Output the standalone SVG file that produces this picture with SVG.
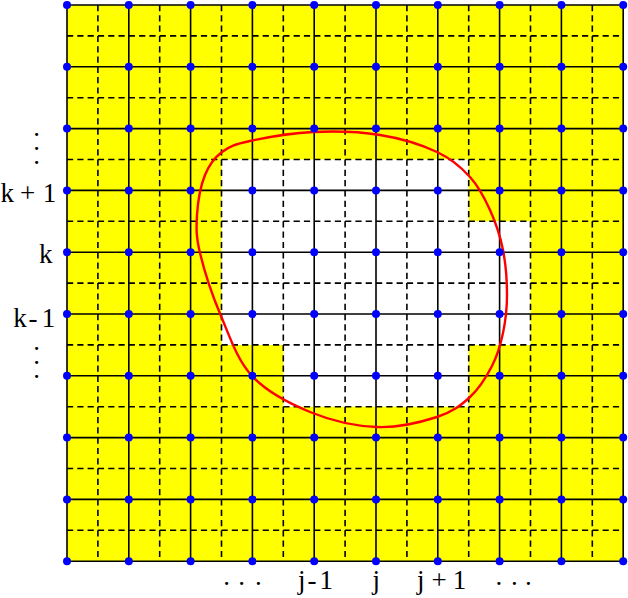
<svg xmlns="http://www.w3.org/2000/svg" width="628" height="598" viewBox="0 0 628 598">
<style>
.solid{stroke:#000;stroke-width:1.6;fill:none}
.dash{stroke:#000;stroke-width:1.6;fill:none;stroke-dasharray:6.2 4.1}
.pt{fill:#0000FF}
.lbl{font-family:"Liberation Serif","Times New Roman",serif;font-size:27px;fill:#000}
.dot{font-family:"Liberation Serif","Times New Roman",serif;font-size:19px;font-weight:bold;fill:#000}
</style>
<rect x="67" y="5" width="556.2" height="556.2" fill="#FFFF00"/>
<polygon points="221.5,159.5 468.7,159.5 468.7,221.3 530.5,221.3 530.5,344.9 468.7,344.9 468.7,406.7 283.3,406.7 283.3,344.9 221.5,344.9" fill="#FFFFFF"/>
<g id="dashed">
<line class="dash" x1="97.9" y1="5" x2="97.9" y2="561.2"/>
<line class="dash" x1="159.7" y1="5" x2="159.7" y2="561.2"/>
<line class="dash" x1="221.5" y1="5" x2="221.5" y2="561.2"/>
<line class="dash" x1="283.3" y1="5" x2="283.3" y2="561.2"/>
<line class="dash" x1="345.1" y1="5" x2="345.1" y2="561.2"/>
<line class="dash" x1="406.9" y1="5" x2="406.9" y2="561.2"/>
<line class="dash" x1="468.7" y1="5" x2="468.7" y2="561.2"/>
<line class="dash" x1="530.5" y1="5" x2="530.5" y2="561.2"/>
<line class="dash" x1="592.3" y1="5" x2="592.3" y2="561.2"/>
<line class="dash" x1="67" y1="35.9" x2="623.2" y2="35.9"/>
<line class="dash" x1="67" y1="97.7" x2="623.2" y2="97.7"/>
<line class="dash" x1="67" y1="159.5" x2="623.2" y2="159.5"/>
<line class="dash" x1="67" y1="221.3" x2="623.2" y2="221.3"/>
<line class="dash" x1="67" y1="283.1" x2="623.2" y2="283.1"/>
<line class="dash" x1="67" y1="344.9" x2="623.2" y2="344.9"/>
<line class="dash" x1="67" y1="406.7" x2="623.2" y2="406.7"/>
<line class="dash" x1="67" y1="468.5" x2="623.2" y2="468.5"/>
<line class="dash" x1="67" y1="530.3" x2="623.2" y2="530.3"/>
</g>
<g id="solid">
<path class="solid" d="M67,5V561.2M128.8,5V561.2M190.6,5V561.2M252.4,5V561.2M314.2,5V561.2M376,5V561.2M437.8,5V561.2M499.6,5V561.2M561.4,5V561.2M623.2,5V561.2"/>
<path class="solid" d="M67,5H623.2M67,66.8H623.2M67,128.6H623.2M67,190.4H623.2M67,252.2H623.2M67,314H623.2M67,375.8H623.2M67,437.6H623.2M67,499.4H623.2M67,561.2H623.2"/>
</g>
<path id="curve" d="M313,132 C334.7,131 359.3,131.7 380,135 C400.7,138.3 422,145 437,152 C452,159 461.2,167.3 470,177 C478.8,186.7 484.5,197.8 490,210 C495.5,222.2 500.2,235.8 503,250 C505.8,264.2 507,281.2 507,295 C507,308.8 505.5,321.2 503,333 C500.5,344.8 497.5,355.3 492,366 C486.5,376.7 479.2,388.5 470,397 C460.8,405.5 452.5,412 437,417 C421.5,422 398.2,427.8 377,427 C355.8,426.2 330.8,420.5 310,412 C289.2,403.5 266.8,392 252,376 C237.2,360 229.7,336.5 221,316 C212.3,295.5 204,269.8 200,253 C196,236.2 196.2,228 197,215 C197.8,202 200.8,185.5 205,175 C209.2,164.5 214.5,157.7 222,152 C229.5,146.3 234.8,144.3 250,141 C265.2,137.7 291.3,133 313,132 Z" fill="none" stroke="#FF0000" stroke-width="2.4"/>
<g id="points">
<circle class="pt" cx="67" cy="5" r="4"/><circle class="pt" cx="128.8" cy="5" r="4"/><circle class="pt" cx="190.6" cy="5" r="4"/><circle class="pt" cx="252.4" cy="5" r="4"/><circle class="pt" cx="314.2" cy="5" r="4"/><circle class="pt" cx="376" cy="5" r="4"/><circle class="pt" cx="437.8" cy="5" r="4"/><circle class="pt" cx="499.6" cy="5" r="4"/><circle class="pt" cx="561.4" cy="5" r="4"/><circle class="pt" cx="623.2" cy="5" r="4"/>
<circle class="pt" cx="67" cy="66.8" r="4"/><circle class="pt" cx="128.8" cy="66.8" r="4"/><circle class="pt" cx="190.6" cy="66.8" r="4"/><circle class="pt" cx="252.4" cy="66.8" r="4"/><circle class="pt" cx="314.2" cy="66.8" r="4"/><circle class="pt" cx="376" cy="66.8" r="4"/><circle class="pt" cx="437.8" cy="66.8" r="4"/><circle class="pt" cx="499.6" cy="66.8" r="4"/><circle class="pt" cx="561.4" cy="66.8" r="4"/><circle class="pt" cx="623.2" cy="66.8" r="4"/>
<circle class="pt" cx="67" cy="128.6" r="4"/><circle class="pt" cx="128.8" cy="128.6" r="4"/><circle class="pt" cx="190.6" cy="128.6" r="4"/><circle class="pt" cx="252.4" cy="128.6" r="4"/><circle class="pt" cx="314.2" cy="128.6" r="4"/><circle class="pt" cx="376" cy="128.6" r="4"/><circle class="pt" cx="437.8" cy="128.6" r="4"/><circle class="pt" cx="499.6" cy="128.6" r="4"/><circle class="pt" cx="561.4" cy="128.6" r="4"/><circle class="pt" cx="623.2" cy="128.6" r="4"/>
<circle class="pt" cx="67" cy="190.4" r="4"/><circle class="pt" cx="128.8" cy="190.4" r="4"/><circle class="pt" cx="190.6" cy="190.4" r="4"/><circle class="pt" cx="252.4" cy="190.4" r="4"/><circle class="pt" cx="314.2" cy="190.4" r="4"/><circle class="pt" cx="376" cy="190.4" r="4"/><circle class="pt" cx="437.8" cy="190.4" r="4"/><circle class="pt" cx="499.6" cy="190.4" r="4"/><circle class="pt" cx="561.4" cy="190.4" r="4"/><circle class="pt" cx="623.2" cy="190.4" r="4"/>
<circle class="pt" cx="67" cy="252.2" r="4"/><circle class="pt" cx="128.8" cy="252.2" r="4"/><circle class="pt" cx="190.6" cy="252.2" r="4"/><circle class="pt" cx="252.4" cy="252.2" r="4"/><circle class="pt" cx="314.2" cy="252.2" r="4"/><circle class="pt" cx="376" cy="252.2" r="4"/><circle class="pt" cx="437.8" cy="252.2" r="4"/><circle class="pt" cx="499.6" cy="252.2" r="4"/><circle class="pt" cx="561.4" cy="252.2" r="4"/><circle class="pt" cx="623.2" cy="252.2" r="4"/>
<circle class="pt" cx="67" cy="314" r="4"/><circle class="pt" cx="128.8" cy="314" r="4"/><circle class="pt" cx="190.6" cy="314" r="4"/><circle class="pt" cx="252.4" cy="314" r="4"/><circle class="pt" cx="314.2" cy="314" r="4"/><circle class="pt" cx="376" cy="314" r="4"/><circle class="pt" cx="437.8" cy="314" r="4"/><circle class="pt" cx="499.6" cy="314" r="4"/><circle class="pt" cx="561.4" cy="314" r="4"/><circle class="pt" cx="623.2" cy="314" r="4"/>
<circle class="pt" cx="67" cy="375.8" r="4"/><circle class="pt" cx="128.8" cy="375.8" r="4"/><circle class="pt" cx="190.6" cy="375.8" r="4"/><circle class="pt" cx="252.4" cy="375.8" r="4"/><circle class="pt" cx="314.2" cy="375.8" r="4"/><circle class="pt" cx="376" cy="375.8" r="4"/><circle class="pt" cx="437.8" cy="375.8" r="4"/><circle class="pt" cx="499.6" cy="375.8" r="4"/><circle class="pt" cx="561.4" cy="375.8" r="4"/><circle class="pt" cx="623.2" cy="375.8" r="4"/>
<circle class="pt" cx="67" cy="437.6" r="4"/><circle class="pt" cx="128.8" cy="437.6" r="4"/><circle class="pt" cx="190.6" cy="437.6" r="4"/><circle class="pt" cx="252.4" cy="437.6" r="4"/><circle class="pt" cx="314.2" cy="437.6" r="4"/><circle class="pt" cx="376" cy="437.6" r="4"/><circle class="pt" cx="437.8" cy="437.6" r="4"/><circle class="pt" cx="499.6" cy="437.6" r="4"/><circle class="pt" cx="561.4" cy="437.6" r="4"/><circle class="pt" cx="623.2" cy="437.6" r="4"/>
<circle class="pt" cx="67" cy="499.4" r="4"/><circle class="pt" cx="128.8" cy="499.4" r="4"/><circle class="pt" cx="190.6" cy="499.4" r="4"/><circle class="pt" cx="252.4" cy="499.4" r="4"/><circle class="pt" cx="314.2" cy="499.4" r="4"/><circle class="pt" cx="376" cy="499.4" r="4"/><circle class="pt" cx="437.8" cy="499.4" r="4"/><circle class="pt" cx="499.6" cy="499.4" r="4"/><circle class="pt" cx="561.4" cy="499.4" r="4"/><circle class="pt" cx="623.2" cy="499.4" r="4"/>
<circle class="pt" cx="67" cy="561.2" r="4"/><circle class="pt" cx="128.8" cy="561.2" r="4"/><circle class="pt" cx="190.6" cy="561.2" r="4"/><circle class="pt" cx="252.4" cy="561.2" r="4"/><circle class="pt" cx="314.2" cy="561.2" r="4"/><circle class="pt" cx="376" cy="561.2" r="4"/><circle class="pt" cx="437.8" cy="561.2" r="4"/><circle class="pt" cx="499.6" cy="561.2" r="4"/><circle class="pt" cx="561.4" cy="561.2" r="4"/><circle class="pt" cx="623.2" cy="561.2" r="4"/>
</g>
<g id="labels">
<text class="dot" x="34.3 34.3 34.3" y="136 150.3 163.7">...</text>
<text class="lbl" x="0.5 20 42.7" y="201.7">k+1</text>
<text class="lbl" x="52.5" y="263.3" text-anchor="end">k</text>
<text class="lbl" x="13.3 28.6 41.7" y="326.7">k-1</text>
<text class="dot" x="34.3 34.3 34.3" y="349.7 363.7 378">...</text>
<text class="dot" x="224.3 239.3 255.9" y="584.5">...</text>
<text class="lbl" x="298 307.6 319.4" y="589.3">j-1</text>
<text class="lbl" x="372.5" y="589.3">j</text>
<text class="lbl" x="417 431.5 452.7" y="589.3">j+1</text>
<text class="dot" x="496.6 511.9 525.9" y="584.5">...</text>
</g>
</svg>
